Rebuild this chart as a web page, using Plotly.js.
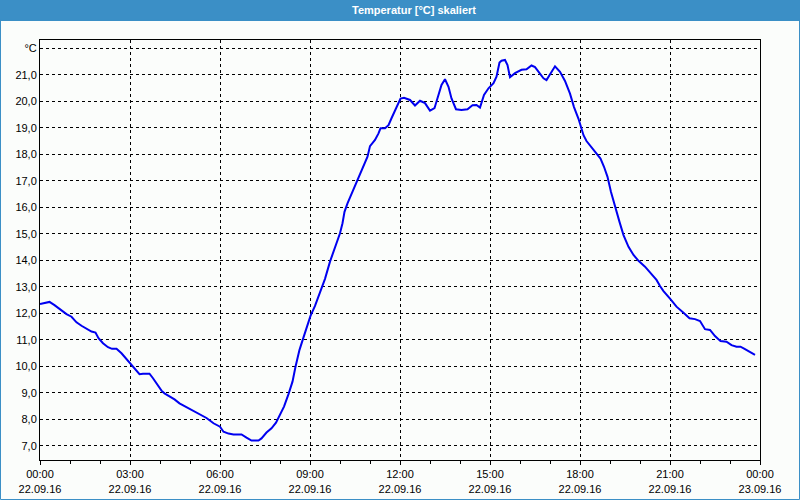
<!DOCTYPE html>
<html>
<head>
<meta charset="utf-8">
<script src="https://cdn.plot.ly/plotly-3.0.1.min.js"></script>
<style>
  html, body { margin: 0; padding: 0; background: #fbfdfb; }
  #chart { width: 800px; height: 500px; }
</style>
</head>
<body>
<div id="chart"></div>
<script>
// ---- data ----
const day = "2016-09-22";
const times = [
  "00:00","00:19","00:29","00:43","00:53","01:03","01:13","01:23","01:33","01:43",
  "01:51","01:57","02:06","02:16","02:24","02:33","02:43","02:53","03:03","03:13",
  "03:19","03:26","03:39","03:46","03:55","04:03","04:09","04:19","04:29","04:39",
  "04:49","04:59","05:09","05:19","05:33","05:47","06:00","06:07","06:17","06:27",
  "06:43","06:53","07:03","07:17","07:23","07:33","07:43","07:52","08:00","08:08",
  "08:17","08:25","08:31","08:39","08:47","08:55","09:01","09:10","09:20","09:30",
  "09:40","09:50","10:00","10:05","10:09","10:15","10:22","10:30","10:38","10:47",
  "10:55","11:00","11:10","11:17","11:21","11:30","11:37","11:43","11:52","12:01",
  "12:08","12:20","12:30","12:40","12:50","13:00","13:09","13:17","13:23","13:30",
  "13:37","13:43","13:52","14:03","14:15","14:25","14:33","14:40","14:48","14:57",
  "15:07","15:13","15:19","15:23","15:30","15:35","15:40","15:50","16:03","16:13",
  "16:23","16:30","16:39","16:47","16:53","17:01","17:10","17:20","17:30","17:40",
  "17:48","17:57","18:01","18:07","18:13","18:23","18:33","18:41","18:48","18:55",
  "19:02","19:10","19:19","19:27","19:37","19:47","19:57","20:10","20:20","20:33",
  "20:40","20:47","21:00","21:13","21:27","21:39","21:50","22:00","22:10","22:20",
  "22:30","22:41","22:53","23:03","23:13","23:21","23:30","23:40","23:50"
];
const temperatures = [
  12.35,12.43,12.31,12.10,11.97,11.87,11.66,11.53,11.41,11.31,
  11.27,11.06,10.87,10.72,10.66,10.66,10.49,10.28,10.05,9.83,
  9.70,9.72,9.72,9.55,9.29,9.08,8.98,8.88,8.75,8.60,
  8.50,8.42,8.32,8.20,8.05,7.85,7.72,7.53,7.46,7.43,
  7.43,7.31,7.20,7.20,7.28,7.50,7.66,7.87,8.16,8.48,
  8.95,9.42,9.98,10.62,11.09,11.52,11.90,12.28,12.80,13.30,
  13.95,14.51,15.02,15.40,15.83,16.15,16.46,16.80,17.15,17.53,
  17.91,18.31,18.54,18.79,18.98,18.98,19.10,19.36,19.74,20.10,
  20.13,20.05,19.84,20.02,19.93,19.65,19.74,20.30,20.62,20.83,
  20.55,20.11,19.70,19.67,19.70,19.85,19.86,19.76,20.24,20.49,
  20.68,20.93,21.46,21.53,21.56,21.37,20.91,21.06,21.19,21.21,
  21.35,21.29,21.06,20.87,20.80,21.06,21.32,21.11,20.77,20.29,
  19.78,19.34,19.09,18.72,18.50,18.27,18.00,17.84,17.53,17.15,
  16.58,16.02,15.45,14.95,14.51,14.20,13.98,13.76,13.53,13.26,
  13.03,12.84,12.55,12.25,12.02,11.81,11.78,11.71,11.40,11.37,
  11.14,10.95,10.93,10.80,10.74,10.74,10.65,10.55,10.43
];
const yTickValues = [7,8,9,10,11,12,13,14,15,16,17,18,19,20,21,22];
const yTickLabels = ["7,0","8,0","9,0","10,0","11,0","12,0","13,0","14,0","15,0","16,0","17,0","18,0","19,0","20,0","21,0","°C"];
const xRange = ["2016-09-22 00:00", "2016-09-23 00:00"];
const titleText = "Temperatur [°C] skaliert";

// ---- chart ----
const xs = times.map(t => day + " " + t);
const blue = "#3b8fc6";
const font = { family: "Liberation Sans, Arial, sans-serif", size: 11, color: "#000" };

const trace = {
  x: xs, y: temperatures, type: "scatter", mode: "lines",
  line: { color: "#0000f0", width: 2 },
  hoverinfo: "skip"
};

const pxX = p => (p - 40) / 720;
const pxY = p => (460 - p) / 420;

const layout = {
  width: 800, height: 500,
  margin: { l: 40, r: 40, t: 40, b: 40, pad: 0 },
  paper_bgcolor: "#fbfdfb",
  plot_bgcolor: "#fbfdfb",
  showlegend: false,
  font: font,
  title: {
    text: "<b>" + titleText + "</b>",
    font: { family: "Liberation Sans, Arial, sans-serif", size: 11, color: "#ffffff" },
    x: 414 / 800, xanchor: "center", xref: "container",
    y: 1 - 10.5 / 500, yanchor: "middle", yref: "container"
  },
  xaxis: {
    type: "date",
    range: xRange,
    dtick: 3 * 3600 * 1000,
    tick0: "2016-09-22 00:00",
    tickformat: "%H:%M<br>%d.%m.%y",
    ticks: "outside", ticklen: 4, tickcolor: "#000", tickwidth: 1,
    showgrid: true, gridcolor: "#000", gridwidth: 1, griddash: "3px,3px",
    showline: true, linecolor: "#000", linewidth: 1, mirror: true,
    zeroline: false,
    tickfont: font,
    minor: { dtick: 3600 * 1000, ticks: "outside", ticklen: 3, tickcolor: "#000", showgrid: false },
    fixedrange: true
  },
  yaxis: {
    range: [6.464, 22.313],
    tickmode: "array",
    tickvals: yTickValues,
    ticktext: yTickLabels,
    ticks: "",
    showgrid: true, gridcolor: "#000", gridwidth: 1, griddash: "3px,3px",
    showline: true, linecolor: "#000", linewidth: 1, mirror: true,
    zeroline: false,
    tickfont: font,
    fixedrange: true
  },
  shapes: [
    { type: "rect", xref: "paper", yref: "paper",
      x0: pxX(0), x1: pxX(800), y0: pxY(21), y1: pxY(0),
      fillcolor: blue, line: { width: 0 }, layer: "above" },
    { type: "rect", xref: "paper", yref: "paper",
      x0: pxX(0.5), x1: pxX(799.5), y0: pxY(499.5), y1: pxY(20),
      fillcolor: "rgba(0,0,0,0)", line: { color: blue, width: 1 }, layer: "above" }
  ]
};

Plotly.newPlot("chart", [trace], layout, { displayModeBar: false, staticPlot: true });
</script>
</body>
</html>
